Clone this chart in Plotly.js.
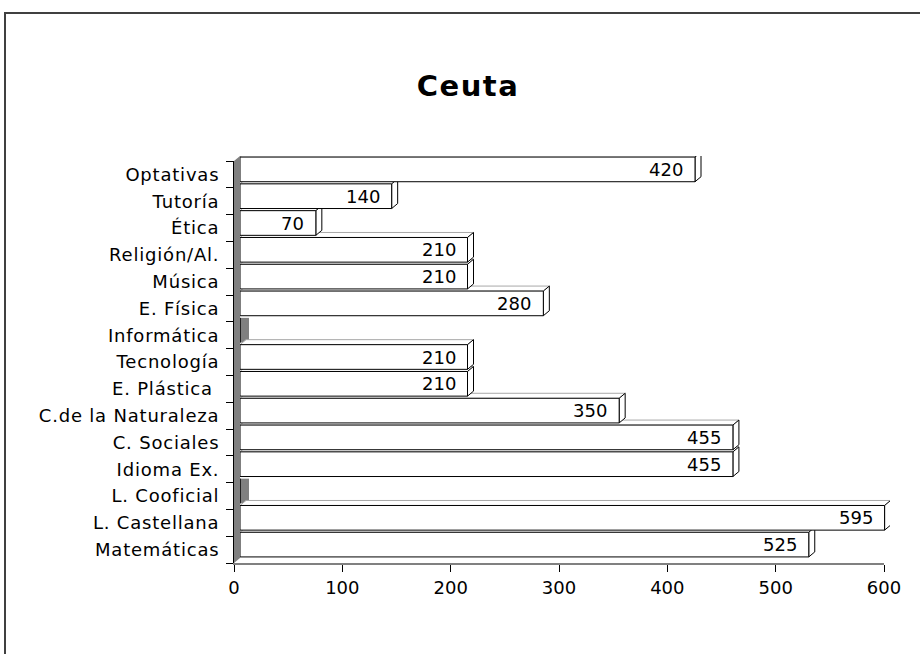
<!DOCTYPE html>
<html>
<head>
<meta charset="utf-8">
<script src="https://cdn.plot.ly/plotly-3.0.1.min.js"></script>
<style>
html,body{margin:0;padding:0;background:#fff;}
#chart .ytick text{letter-spacing:0.8px;}
#chart .gtitle{letter-spacing:1.5px;}
</style>
</head>
<body>
<div id="chart" style="width:920px;height:654px;"></div>
<script>
// ---- data ----
const categories = ["Matemáticas","L. Castellana","L. Cooficial","Idioma Ex.","C. Sociales","C.de la Naturaleza","E. Plástica ","Tecnología","Informática","E. Física","Música","Religión/Al.","Ética","Tutoría","Optativas"];
const hours = [525,595,0,455,455,350,210,210,0,280,210,210,70,140,420];
const xTickVals = [0,100,200,300,400,500,600];
const chartTitle = "Ceuta";

// ---- geometry (pixels) ----
const FW = 920, FH = 654;
const L = 234, R = 890, T = 156, B = 563;
const DX = 6, DY = 5;               // 3D depth in px
const PW = R - L, PH = B - T;
const XMAX = 600, NCAT = categories.length;
const ux = XMAX / (PW - DX);        // data units per px (x)
const uy = NCAT / (PH - DY);        // category units per px (y)
const ddx = DX * ux, ddy = DY * uy;
const half = 0.46;

const idx = categories.map((c, i) => i);
const font = "DejaVu Sans, Verdana, sans-serif";

const shapes = [];
// border of chart area
shapes.push({type:'rect', xref:'paper', yref:'paper', layer:'below',
  x0:(5-L)/PW, x1:(FW+10-L)/PW, y0:(B-(FH+10))/PH, y1:(B-13)/PH,
  line:{color:'#404040', width:2}, fillcolor:'rgba(0,0,0,0)'});
// left wall
shapes.push({type:'path', xref:'paper', yref:'paper', layer:'below',
  path:`M0,0 L0,${(PH-DY)/PH} L${DX/PW},1 L${DX/PW},${DY/PH} Z`,
  fillcolor:'#808080', line:{width:0}});

hours.forEach((v, i) => {
  if (v > 0) {
    // top face
    shapes.push({type:'path', xref:'x2', yref:'y2', layer:'below',
      path:`M0,${i+half} L${ddx},${i+half+ddy} L${v+ddx},${i+half+ddy} L${v},${i+half} Z`,
      fillcolor:'#ffffff', line:{color:'#a8a8a8', width:1}});
    // side face
    shapes.push({type:'path', xref:'x2', yref:'y2', layer:'below',
      path:`M${v},${i-half} L${v+ddx},${i-half+ddy} L${v+ddx},${i+half+ddy} L${v},${i+half} Z`,
      fillcolor:'#ffffff', line:{color:'#000000', width:1}});
  } else {
    // zero-length bar: grey block against the wall
    shapes.push({type:'path', xref:'x', yref:'y', layer:'below',
      path:`M${v},${i-half+ddy} L${v+2.5*ddx},${i-half+ddy} L${v+2.5*ddx},${i+half+ddy} L${v},${i+half+ddy} Z`,
      fillcolor:'#808080', line:{width:0}});
  }
});

const annotations = hours.map((v, i) => v > 0 ? ({
  xref:'x2', yref:'y2', x:v, y:i, text:String(v), showarrow:false,
  xanchor:'right', yanchor:'middle', xshift:-10,
  font:{family:font, size:18, color:'#000'}
}) : null).filter(a => a);

const traces = [
  {type:'bar', orientation:'h', x:hours, y:idx, xaxis:'x2', yaxis:'y2',
   width:2*half, marker:{color:'#ffffff', line:{color:'#000000', width:1}},
   hoverinfo:'skip', showlegend:false, cliponaxis:false},
  // carries the visible axes
  {type:'scatter', mode:'markers', x:hours, y:idx, xaxis:'x', yaxis:'y',
   marker:{opacity:0, size:1}, hoverinfo:'skip', showlegend:false}
];

const layout = {
  width:FW, height:FH,
  margin:{l:L, r:FW-R, t:T, b:FH-B, pad:0},
  paper_bgcolor:'#ffffff', plot_bgcolor:'rgba(0,0,0,0)',
  showlegend:false,
  title:{text:'<b>'+chartTitle+'</b>', x:468/FW, xanchor:'center', xref:'container',
         y:1-86/FH, yanchor:'middle', yref:'container',
         font:{family:font, size:29, color:'#000'}},
  font:{family:font, size:18, color:'#000'},
  xaxis:{domain:[0,(PW-DX)/PW], range:[0,XMAX], anchor:'y',
         tickmode:'array', tickvals:xTickVals, ticktext:xTickVals.map(String),
         ticks:'outside', ticklen:7, tickcolor:'#000', tickwidth:1,
         showline:true, linecolor:'#808080', linewidth:2,
         showgrid:false, zeroline:false, fixedrange:true,
         tickfont:{family:font, size:18, color:'#000'}},
  yaxis:{domain:[0,(PH-DY)/PH], range:[-0.5,NCAT-0.5], anchor:'x',
         tickmode:'array', tickvals:idx, ticktext:categories, ticks:'',
         ticklabelstandoff:10,
         minor:{tickmode:'array', tickvals:idx.concat([NCAT-1]).map(i=>i+0.5).concat([-0.5]), ticks:'outside', ticklen:7, tickcolor:'#000', tickwidth:1, showgrid:false},
         showline:true, linecolor:'#000', linewidth:1,
         showgrid:false, zeroline:false, fixedrange:true,
         tickfont:{family:font, size:18, color:'#000'}},
  xaxis2:{domain:[DX/PW,1], range:[0,XMAX], anchor:'y2', visible:false, fixedrange:true},
  yaxis2:{domain:[DY/PH,1], range:[-0.5,NCAT-0.5], anchor:'x2', visible:false, fixedrange:true},
  shapes:shapes,
  annotations:annotations
};

Plotly.newPlot('chart', traces, layout, {displayModeBar:false, staticPlot:true});
</script>
</body>
</html>
